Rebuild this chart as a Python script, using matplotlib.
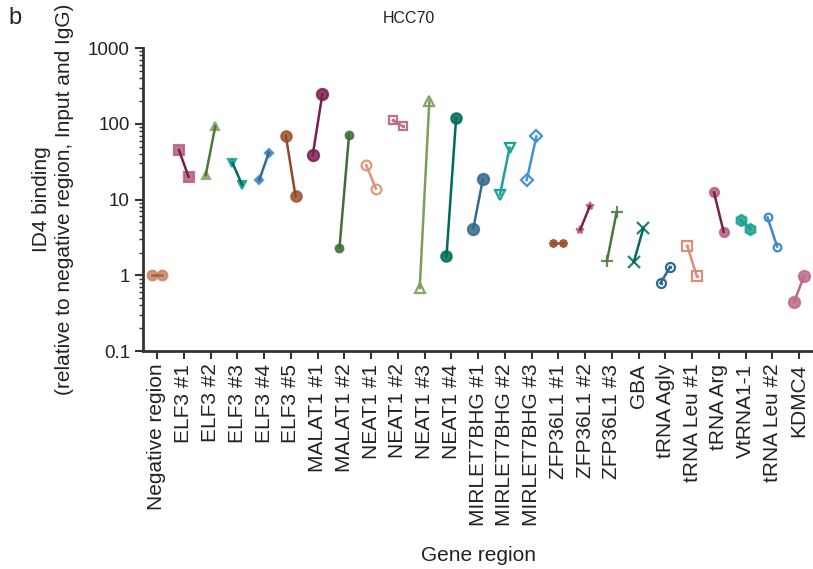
import matplotlib
matplotlib.use("Agg")
import matplotlib.pyplot as plt
import numpy as np

plt.rcParams['font.family'] = ['Liberation Sans', 'DejaVu Sans']

categories = ["Negative region", "ELF3 #1", "ELF3 #2", "ELF3 #3", "ELF3 #4", "ELF3 #5",
              "MALAT1 #1", "MALAT1 #2", "NEAT1 #1", "NEAT1 #2", "NEAT1 #3", "NEAT1 #4",
              "MIRLET7BHG #1", "MIRLET7BHG #2", "MIRLET7BHG #3", "ZFP36L1 #1", "ZFP36L1 #2",
              "ZFP36L1 #3", "GBA", "tRNA Agly", "tRNA Leu #1", "tRNA Arg", "VtRNA1-1",
              "tRNA Leu #2", "KDMC4"]
rep1 = [1.0, 45, 21, 30.5, 18, 68, 38.5, 2.3, 28.5, 111, 0.68, 1.78,
        4.1, 11.6, 18.1, 2.65, 4.0, 1.55, 1.5, 0.79, 2.45, 12.4, 5.3, 5.8, 0.45]
rep2 = [1.0, 20, 93, 15.7, 41.5, 11, 245, 72, 13.9, 93, 202, 118,
        18.5, 48.5, 68, 2.65, 8.2, 6.8, 4.2, 1.29, 0.97, 3.75, 4.1, 2.4, 0.97]
y_ticks = [0.1, 1, 10, 100, 1000]
y_ticklabels = ["0.1", "1", "10", "100", "1000"]

marker_colors = ['#c4876a', '#b5607e', '#8aa56a', '#17a090', '#3d8ac8', '#a0522d',
                 '#7a1f4f', '#3f6e37', '#e29a7a', '#c0708a', '#8aa56a', '#006b5a',
                 '#366a8f', '#1aa394', '#4592d2', '#9a4f2e', '#b5607e', '#4a7a3a',
                 '#006b5a', '#2f6a8f', '#d9907a', '#b5607e', '#17a090', '#3d8ac8', '#bd6a88']
line_colors = ['#a8603f', '#7a1f4f', '#4a7a3a', '#006b5a', '#2f6a98', '#8e4a2a',
               '#7a1f4f', '#3f6e37', '#d9967a', '#c0708a', '#7f9c5e', '#006b5a',
               '#366a8f', '#1aa394', '#4592d2', '#9a4f2e', '#7a1f4f', '#4a7a3a',
               '#006b5a', '#2f6a8f', '#d9907a', '#7a1f4f', '#17a090', '#3d8ac8', '#bd6a88']
markers = ['o', 's', '^', 'v', 'D', 'o', 'o', 'o', 'o', 's', '^', 'o',
           'o', 'v', 'D', (8, 1, 0), '*', '+', 'x', 'o', 's', 'o', 'h',
           'o', 'o']
filled = [True, True, True, True, True, True, True, True, False, False, False, True,
          True, False, False, True, True, True, True, False, False, True, True, False, True]
msizes = [7, 6.5, 6, 6, 4.5, 7.5, 8, 5.5, 7, 6, 7, 7.5,
          8, 7, 6, 6, 6, 8, 8, 6.5, 6.5, 6.5, 8, 5.5, 8]
inner_dot = [False, False, False, False, False, False, False, False, False, True, False, False,
             False, False, False, False, False, False, False, True, True, False, False, False, False]

fig = plt.figure(figsize=(8.13, 5.69), dpi=100)
ax = fig.add_axes([0.176, 0.383, 0.824, 0.5326])

x = np.arange(len(categories))
off = 0.18
for i in range(len(categories)):
    xs = [x[i] - off, x[i] + off]
    ys = [rep1[i], rep2[i]]
    m = markers[i]
    mc = marker_colors[i]
    if filled[i]:
        ax.plot(xs, ys, linestyle='none', marker=m, markersize=msizes[i],
                markerfacecolor=mc, markeredgecolor=mc, markeredgewidth=1.6,
                alpha=0.85, zorder=2)
    else:
        ax.plot(xs, ys, linestyle='none', marker=m, markersize=msizes[i],
                markerfacecolor='white', markeredgecolor=mc, markeredgewidth=1.6,
                zorder=2)
    if inner_dot[i]:
        ax.plot(xs, ys, linestyle='none', marker='.', markersize=3,
                color=mc, zorder=2)
    ax.plot(xs, ys, color=line_colors[i], linewidth=1.8, zorder=3)

ax.set_yscale('log')
ax.set_ylim(0.1, 1000)
ax.set_xlim(-0.52, len(categories) - 0.48)
ax.set_yticks(y_ticks)
ax.set_yticklabels(y_ticklabels, fontsize=13.5, color='#222222')
ax.yaxis.set_minor_locator(matplotlib.ticker.LogLocator(base=10, subs=np.arange(2, 10)))
ax.yaxis.set_minor_formatter(matplotlib.ticker.NullFormatter())
ax.set_xticks(x)
ax.set_xticklabels(categories, rotation=90, fontsize=15, color='#222222')
ax.tick_params(axis='both', which='major', direction='out', length=6, width=1.5, color='#333333')
ax.tick_params(axis='y', which='minor', direction='out', length=3, width=1.0, color='#333333')
ax.tick_params(axis='x', pad=3)
for s in ['top', 'right']:
    ax.spines[s].set_visible(False)
for s in ['left', 'bottom']:
    ax.spines[s].set_linewidth(2)
    ax.spines[s].set_color('#333333')

ax.set_ylabel("ID4 binding\n(relative to negative region, Input and IgG)", fontsize=15,
              color='#222222', labelpad=10, linespacing=1.25)
ax.set_xlabel("Gene region", fontsize=15, color='#222222', labelpad=14)
fig.text(0.503, 0.968, "HCC70", ha='center', va='center', fontsize=11.5, color='#222222')
fig.text(0.018, 0.968, "b", ha='center', va='center', fontsize=17, color='#222222')

fig.savefig("out.png", dpi=100)
